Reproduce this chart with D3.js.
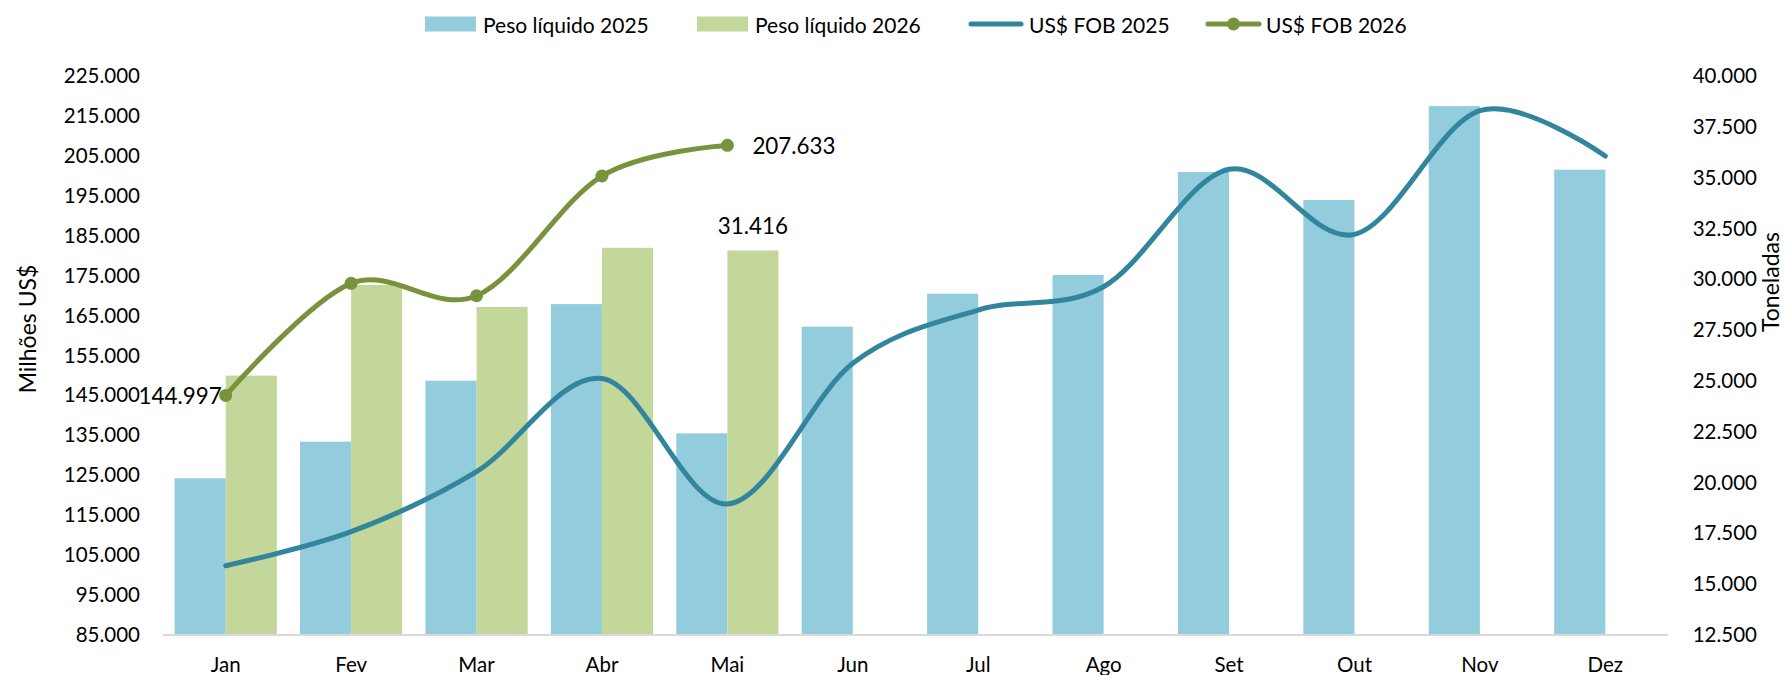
<!DOCTYPE html>
<html>
<head>
<meta charset="utf-8">
<script src="https://cdn.jsdelivr.net/npm/d3@7"></script>
<style>
	body { margin: 0; background: #fff; }
	svg { display: block; font-family: Lato, "Noto Sans", sans-serif; }
	.axis text { font-size: 20.5px; fill: #000; }
	.legend text { font-size: 21px; fill: #000; }
	.data-label { font-size: 22.4px; fill: #000; }
	.axis-title { font-size: 23px; fill: #000; }
</style>
</head>
<body>
<script>
var months = ['Jan','Fev','Mar','Abr','Mai','Jun','Jul','Ago','Set','Out','Nov','Dez'];

// toneladas (eixo direito)
var peso2025 = [20210, 22010, 25010, 28780, 22420, 27670, 29290, 30210, 35280, 33900, 38520, 35390];
var peso2026 = [25260, 29720, 28640, 31550, 31416];

// US$ FOB (eixo esquerdo)
var fob2025 = [102360, 110870, 125900, 149240, 117810, 153040, 166390, 172230, 201630, 185340, 216300, 204960];
var fob2026 = [144997, 173080, 169970, 199950, 207633];

var leftTicks = [85000, 95000, 105000, 115000, 125000, 135000, 145000, 155000, 165000, 175000, 185000, 195000, 205000, 215000, 225000];
var rightTicks = [12500, 15000, 17500, 20000, 22500, 25000, 27500, 30000, 32500, 35000, 37500, 40000];

var seriesNames = ['Peso líquido 2025', 'Peso líquido 2026', 'US$ FOB 2025', 'US$ FOB 2026'];

var blueBar = '#93CDDD';
var greenBar = '#C4D79B';
var blueLine = '#31859C';
var greenLine = '#77933C';

var width = 1786;
var height = 675;
var plotLeft = 163, plotRight = 1668, plotTop = 76, plotBottom = 635;

var br = d3.formatLocale({decimal: ',', thousands: '.', grouping: [3], currency: ['', '']});
var fmt = br.format(',.0f');

var svg = d3.select('body').append('svg')
	.attr('width', width)
	.attr('height', height);

var x = d3.scaleBand()
	.domain(months)
	.range([plotLeft, plotRight])
	.paddingInner(0.185)
	.paddingOuter(0.0925);

var xSub = d3.scaleBand()
	.domain(['2025', '2026'])
	.range([0, x.bandwidth()]);

var yLeft = d3.scaleLinear().domain([85000, 225000]).range([plotBottom, plotTop]);
var yRight = d3.scaleLinear().domain([12500, 40000]).range([plotBottom, plotTop]);

// bars
var barsGroup = svg.append('g').classed('bars', true);

barsGroup.selectAll('rect.b2025')
	.data(peso2025)
	.enter().append('rect')
	.attr('class', 'b2025')
	.attr('x', function(d, i) { return x(months[i]) + xSub('2025'); })
	.attr('y', function(d) { return yRight(d); })
	.attr('width', xSub.bandwidth())
	.attr('height', function(d) { return yRight(12500) - yRight(d); })
	.attr('fill', blueBar);

barsGroup.selectAll('rect.b2026')
	.data(peso2026)
	.enter().append('rect')
	.attr('class', 'b2026')
	.attr('x', function(d, i) { return x(months[i]) + xSub('2026'); })
	.attr('y', function(d) { return yRight(d); })
	.attr('width', xSub.bandwidth())
	.attr('height', function(d) { return yRight(12500) - yRight(d); })
	.attr('fill', greenBar);

// baseline
svg.append('line')
	.attr('x1', plotLeft).attr('x2', plotRight)
	.attr('y1', plotBottom).attr('y2', plotBottom)
	.attr('stroke', '#D9D9D9')
	.attr('stroke-width', 2);

// axes
var xAxis = svg.append('g')
	.attr('class', 'axis')
	.attr('transform', 'translate(0,' + plotBottom + ')')
	.call(d3.axisBottom(x).tickSize(0).tickPadding(22));
xAxis.select('.domain').remove();

var leftAxis = svg.append('g')
	.attr('class', 'axis')
	.attr('transform', 'translate(' + plotLeft + ',0)')
	.call(d3.axisLeft(yLeft).tickValues(leftTicks).tickFormat(fmt).tickSize(0).tickPadding(23));
leftAxis.select('.domain').remove();

var rightAxis = svg.append('g')
	.attr('class', 'axis')
	.attr('transform', 'translate(' + plotRight + ',0)')
	.call(d3.axisRight(yRight).tickValues(rightTicks).tickFormat(fmt).tickSize(0));
rightAxis.select('.domain').remove();
rightAxis.selectAll('text')
	.attr('text-anchor', 'end')
	.attr('x', 89);

svg.selectAll('.axis').attr('font-family', null).attr('font-size', null);

// axis titles
svg.append('text')
	.attr('class', 'axis-title')
	.attr('transform', 'translate(27,329) rotate(-90)')
	.attr('text-anchor', 'middle')
	.attr('dominant-baseline', 'central')
	.text('Milhões US$');

svg.append('text')
	.attr('class', 'axis-title')
	.attr('transform', 'translate(1770,282) rotate(-90)')
	.attr('text-anchor', 'middle')
	.attr('dominant-baseline', 'central')
	.text('Toneladas');

// lines
var cx = function(d, i) { return x(months[i]) + x.bandwidth() / 2; };

var line = d3.line()
	.x(cx)
	.y(function(d) { return yLeft(d); })
	.curve(d3.curveCatmullRom.alpha(0));

svg.append('path')
	.datum(fob2025)
	.attr('d', line)
	.attr('fill', 'none')
	.attr('stroke', blueLine)
	.attr('stroke-width', 5)
	.attr('stroke-linecap', 'round');

svg.append('path')
	.datum(fob2026)
	.attr('d', line)
	.attr('fill', 'none')
	.attr('stroke', greenLine)
	.attr('stroke-width', 5)
	.attr('stroke-linecap', 'round');

svg.selectAll('circle.m2026')
	.data(fob2026)
	.enter().append('circle')
	.attr('class', 'm2026')
	.attr('cx', cx)
	.attr('cy', function(d) { return yLeft(d); })
	.attr('r', 6.5)
	.attr('fill', greenLine);

// data labels
var firstFob = 0, lastFob = fob2026.length - 1;

svg.append('text')
	.attr('class', 'data-label')
	.attr('x', cx(fob2026[firstFob], firstFob) - 4)
	.attr('y', yLeft(fob2026[firstFob]))
	.attr('text-anchor', 'end')
	.attr('dominant-baseline', 'central')
	.text(fmt(fob2026[firstFob]));

svg.append('text')
	.attr('class', 'data-label')
	.attr('x', cx(fob2026[lastFob], lastFob) + 25)
	.attr('y', yLeft(fob2026[lastFob]))
	.attr('text-anchor', 'start')
	.attr('dominant-baseline', 'central')
	.text(fmt(fob2026[lastFob]));

var lastPeso = peso2026.length - 1;
svg.append('text')
	.attr('class', 'data-label')
	.attr('x', x(months[lastPeso]) + xSub('2026') + xSub.bandwidth() / 2)
	.attr('y', yRight(peso2026[lastPeso]) - 25)
	.attr('text-anchor', 'middle')
	.attr('dominant-baseline', 'central')
	.text(fmt(peso2026[lastPeso]));

// legend
var legend = svg.append('g').attr('class', 'legend');
var ly = 24;

legend.append('rect')
	.attr('x', 425).attr('y', ly - 7.5)
	.attr('width', 51).attr('height', 15)
	.attr('fill', blueBar);
legend.append('text')
	.attr('x', 483).attr('y', ly)
	.attr('dominant-baseline', 'central')
	.text(seriesNames[0]);

legend.append('rect')
	.attr('x', 697).attr('y', ly - 7.5)
	.attr('width', 51).attr('height', 15)
	.attr('fill', greenBar);
legend.append('text')
	.attr('x', 755).attr('y', ly)
	.attr('dominant-baseline', 'central')
	.text(seriesNames[1]);

legend.append('line')
	.attr('x1', 971).attr('x2', 1021)
	.attr('y1', ly).attr('y2', ly)
	.attr('stroke', blueLine)
	.attr('stroke-width', 5)
	.attr('stroke-linecap', 'round');
legend.append('text')
	.attr('x', 1029).attr('y', ly)
	.attr('dominant-baseline', 'central')
	.text(seriesNames[2]);

legend.append('line')
	.attr('x1', 1208).attr('x2', 1259)
	.attr('y1', ly).attr('y2', ly)
	.attr('stroke', greenLine)
	.attr('stroke-width', 5)
	.attr('stroke-linecap', 'round');
legend.append('circle')
	.attr('cx', 1233.5).attr('cy', ly)
	.attr('r', 6.5)
	.attr('fill', greenLine);
legend.append('text')
	.attr('x', 1266).attr('y', ly)
	.attr('dominant-baseline', 'central')
	.text(seriesNames[3]);
</script>
</body>
</html>
